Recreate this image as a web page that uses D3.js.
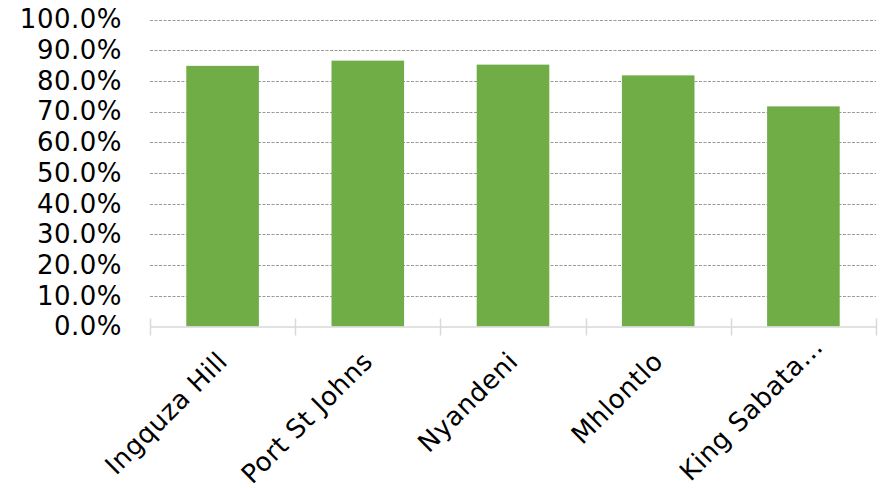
<!DOCTYPE html>
<html>
<head>
<meta charset="utf-8">
<script src="https://cdn.jsdelivr.net/npm/d3@7/dist/d3.min.js"></script>
<style>
  html, body { margin: 0; padding: 0; background: #fff; }
  svg { display: block; }
  text { font-family: "DejaVu Sans", Verdana, sans-serif; fill: #000; }
</style>
</head>
<body>
<svg id="chart" width="881" height="488"></svg>
<script>
const categories = ["Ingquza Hill", "Port St Johns", "Nyandeni", "Mhlontlo", "King Sabata…"];
const values = [0.849, 0.866, 0.853, 0.818, 0.717];
const yTicks = [0, 0.1, 0.2, 0.3, 0.4, 0.5, 0.6, 0.7, 0.8, 0.9, 1.0];

const svg = d3.select("#chart");
const x0 = 150, x1 = 876, yTop = 19.5, yBottom = 326.5;

const x = d3.scaleBand().domain(categories).range([x0, x1]).paddingInner(0.5).paddingOuter(0.25);
const y = d3.scaleLinear().domain([0, 1]).range([yBottom, yTop]);
const fmt = d3.format(".1%");

// gridlines
svg.append("g").selectAll("line").data(yTicks.filter(d => d > 0)).join("line")
  .attr("x1", x0).attr("x2", x1)
  .attr("y1", d => Math.round(y(d)) + 0.5).attr("y2", d => Math.round(y(d)) + 0.5)
  .attr("stroke", "#9a9a9a").attr("stroke-width", 1).attr("stroke-dasharray", "3,1.5");

// y axis labels
const yAxis = d3.axisLeft(y).tickValues(yTicks).tickFormat(fmt).tickSize(0).tickPadding(28);
const gy = svg.append("g").attr("transform", `translate(${x0},0)`).call(yAxis);
gy.select(".domain").remove();
gy.selectAll("text").style("font-size", "26px").style("letter-spacing", "0.5px")
  .style("font-family", '"DejaVu Sans", Verdana, sans-serif').attr("fill", "#000");

// bars
svg.append("g").selectAll("rect").data(values).join("rect")
  .attr("x", (d, i) => x(categories[i]))
  .attr("width", x.bandwidth())
  .attr("y", d => y(d))
  .attr("height", d => yBottom - y(d))
  .attr("fill", "#70ad47");

// x axis baseline and cross ticks
const boundaries = d3.range(categories.length + 1).map(i => x0 + i * (x1 - x0) / categories.length);
svg.append("line").attr("x1", x0).attr("x2", x1)
  .attr("y1", yBottom + 0.5).attr("y2", yBottom + 0.5)
  .attr("stroke", "#d9d9d9").attr("stroke-width", 1.5);
svg.append("g").selectAll("line").data(boundaries).join("line")
  .attr("x1", d => Math.round(d) + 0.5).attr("x2", d => Math.round(d) + 0.5)
  .attr("y1", yBottom - 8).attr("y2", yBottom + 9)
  .attr("stroke", "#d9d9d9").attr("stroke-width", 1.5);

// category labels
svg.append("g").selectAll("text").data(categories).join("text")
  .attr("transform", d => `translate(${x(d) + x.bandwidth() / 2},${yBottom + 30}) rotate(-45)`)
  .attr("text-anchor", "end")
  .attr("dy", "0.35em")
  .attr("dx", d => d.endsWith("…") ? 21 : 0)
  .style("font-size", "26px")
  .style("letter-spacing", "0.6px")
  .text(d => d);
</script>
</body>
</html>
